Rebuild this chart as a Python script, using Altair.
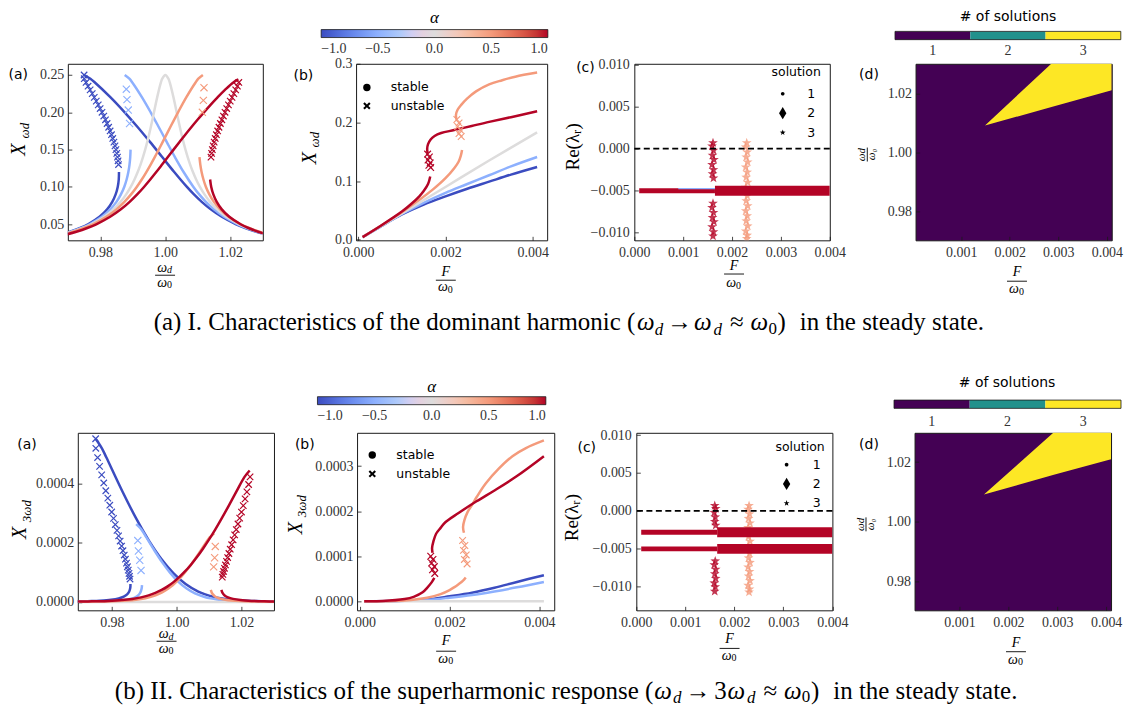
import altair as alt
import pandas as pd

SERIF = "Liberation Serif"
SANS = "DejaVu Sans"
INK = "#1a1a1a"
LAB = "#333333"

# ---------------- colours / categories ----------------
ALPHA_VALUES = [-1.0, -0.5, 0.0, 0.5, 1.0]
CW_DOM = [-1.0, -0.75, -0.5, -0.25, 0.0, 0.25, 0.5, 0.75, 1.0]
CW_RNG = ["#3b4cc0", "#6282ea", "#8db0fe", "#b8d0f9", "#dddcdc", "#f5c4ad", "#f49a7b", "#de604d", "#b40426"]
C_M1, C_M05, C_0, C_P05, C_P1 = "#3b4cc0", "#8db0fe", "#dddcdc", "#f49a7b", "#b40426"
VIRIDIS3 = ["#440154", "#21918c", "#fde725"]
N_SOL = [1, 2, 3]
SOL_LABELS = ["1", "2", "3"]
STAB_LABELS = ["stable", "unstable"]

# ---------------- panel (a): omega_d/omega_0 vs X_wd (I) and X_3wd (II) ----------------
# alpha = -1
a_m1_up_w = [0.975, 0.97693, 0.97832, 0.98315, 0.98749, 0.99152, 0.99534, 0.99904, 1.00274, 1.00665, 1.00881, 1.01121, 1.01399, 1.01737, 1.02178, 1.0246, 1.02805, 1.02966]
a_m1_up_X1 = [0.25, 0.245, 0.24, 0.22, 0.2, 0.18, 0.16, 0.14, 0.12, 0.1, 0.09, 0.08, 0.07, 0.06, 0.05, 0.045, 0.04, 0.038]
a_m1_up_X3 = [0.00055, 0.0005177, 0.0004866, 0.0003748, 0.0002816, 0.0002053, 0.0001442, 0.0000966, 0.0000608, 0.0000352, 0.0000257, 0.000018, 0.0000121, 0.0000076, 0.0000044, 0.0000032, 0.0000023, 0.0000019]
a_m1_lo_w = [0.96918, 0.97067, 0.97378, 0.97622, 0.97975, 0.98209, 0.98367, 0.98471, 0.98535, 0.98567, 0.98574]
a_m1_lo_X1 = [0.038, 0.04, 0.045, 0.05, 0.06, 0.07, 0.08, 0.09, 0.1, 0.11, 0.12]
a_m1_lo_X3 = [0.0000019, 0.0000023, 0.0000032, 0.0000044, 0.0000076, 0.0000121, 0.000018, 0.0000257, 0.0000352, 0.0000469, 0.0000608]
a_m1_un_w = [0.9856, 0.98546, 0.98528, 0.98506, 0.9848, 0.98451, 0.98418, 0.98382, 0.98343, 0.98301, 0.98256, 0.98208, 0.98158, 0.98106, 0.98051, 0.97994, 0.97936, 0.97875, 0.97813, 0.9775, 0.97686, 0.97622, 0.9756, 0.97505, 0.975]
a_m1_un_X1 = [0.13, 0.135, 0.14, 0.145, 0.15, 0.155, 0.16, 0.165, 0.17, 0.175, 0.18, 0.185, 0.19, 0.195, 0.2, 0.205, 0.21, 0.215, 0.22, 0.225, 0.23, 0.235, 0.24, 0.245, 0.25]
a_m1_un_X3 = [0.0000773, 0.0000866, 0.0000966, 0.0001073, 0.0001188, 0.0001311, 0.0001442, 0.0001581, 0.0001729, 0.0001886, 0.0002053, 0.0002229, 0.0002414, 0.000261, 0.0002816, 0.0003032, 0.000326, 0.0003498, 0.0003748, 0.000401, 0.0004283, 0.0004568, 0.0004866, 0.0005177, 0.00055]
# alpha = -0.5
a_m05_up_w = [0.9875, 0.98894, 0.98984, 0.99283, 0.99549, 0.998, 1.00046, 1.00296, 1.00562, 1.00865, 1.01043, 1.01249, 1.01497, 1.01809, 1.02228, 1.02501, 1.02837, 1.02995]
a_m05_up_X1 = [0.25, 0.245, 0.24, 0.22, 0.2, 0.18, 0.16, 0.14, 0.12, 0.1, 0.09, 0.08, 0.07, 0.06, 0.05, 0.045, 0.04, 0.038]
a_m05_up_X3 = [0.0002625, 0.000247, 0.0002322, 0.0001789, 0.0001344, 0.000098, 0.0000688, 0.0000461, 0.000029, 0.0000168, 0.0000122, 0.0000086, 0.0000058, 0.0000036, 0.0000021, 0.0000015, 0.0000011, 0.0000009]
a_m05_lo_w = [0.96947, 0.97099, 0.97419, 0.97672, 0.98047, 0.98307, 0.98495, 0.98633, 0.98735, 0.98809, 0.98862, 0.98898, 0.9892, 0.9893]
a_m05_lo_X1 = [0.038, 0.04, 0.045, 0.05, 0.06, 0.07, 0.08, 0.09, 0.1, 0.11, 0.12, 0.13, 0.14, 0.15]
a_m05_lo_X3 = [0.0000009, 0.0000011, 0.0000015, 0.0000021, 0.0000036, 0.0000058, 0.0000086, 0.0000122, 0.0000168, 0.0000224, 0.000029, 0.0000369, 0.0000461, 0.0000567]
a_m05_un_w = [0.988, 0.9882, 0.9886, 0.989]
a_m05_un_X1 = [0.231, 0.217, 0.203, 0.185]
a_m05_un_X3 = [0.000207, 0.0001717, 0.0001405, 0.0001064]
# alpha = 0
a_0_w = [0.96976, 0.97131, 0.97459, 0.97722, 0.98119, 0.98405, 0.98623, 0.98795, 0.98935, 0.99051, 0.9915, 0.99236, 0.99312, 0.9938, 0.99442, 0.99552, 0.99651, 0.99749, 0.99864, 0.99906, 1.0,
         1.00094, 1.00136, 1.00251, 1.00349, 1.00448, 1.00558, 1.0062, 1.00688, 1.00764, 1.0085, 1.00949, 1.01065, 1.01205, 1.01377, 1.01595, 1.01881, 1.02278, 1.02541, 1.02869, 1.03024]
a_0_X1 = [0.038, 0.04, 0.045, 0.05, 0.06, 0.07, 0.08, 0.09, 0.1, 0.11, 0.12, 0.13, 0.14, 0.15, 0.16, 0.18, 0.2, 0.22, 0.24, 0.245, 0.25,
          0.245, 0.24, 0.22, 0.2, 0.18, 0.16, 0.15, 0.14, 0.13, 0.12, 0.11, 0.1, 0.09, 0.08, 0.07, 0.06, 0.05, 0.045, 0.04, 0.038]
a_0_X3_w = [0.9698, 1.0302]
a_0_X3 = [0.0, 0.0]
# alpha = 0.5
a_p05_up_w = [0.97003, 0.97161, 0.97497, 0.97768, 0.98186, 0.98496, 0.98741, 0.98945, 0.9912, 0.99275, 0.99416, 0.99549, 0.99675, 0.99796, 0.99916, 1.00151, 1.00391, 1.00644, 1.0093, 1.01016, 1.01156]
a_p05_up_X1 = [0.038, 0.04, 0.045, 0.05, 0.06, 0.07, 0.08, 0.09, 0.1, 0.11, 0.12, 0.13, 0.14, 0.15, 0.16, 0.18, 0.2, 0.22, 0.24, 0.245, 0.25]
a_p05_up_X3 = [0.0000008, 0.0000009, 0.0000013, 0.0000019, 0.0000032, 0.0000051, 0.0000076, 0.0000108, 0.0000148, 0.0000197, 0.0000256, 0.0000325, 0.0000406, 0.00005, 0.0000606, 0.0000863, 0.0001184, 0.0001576, 0.0002046, 0.0002176, 0.0002313]
a_p05_lo_w = [1.01051, 1.01077, 1.01116, 1.01173, 1.0125, 1.01355, 1.01495, 1.01686, 1.01948, 1.02324, 1.02579, 1.02899, 1.03051]
a_p05_lo_X1 = [0.14, 0.13, 0.12, 0.11, 0.1, 0.09, 0.08, 0.07, 0.06, 0.05, 0.045, 0.04, 0.038]
a_p05_lo_X3 = [0.0000406, 0.0000325, 0.0000256, 0.0000197, 0.0000148, 0.0000108, 0.0000076, 0.0000051, 0.0000032, 0.0000019, 0.0000013, 0.0000009, 0.0000008]
a_p05_un_w = [1.0119, 1.0117, 1.0114]
a_p05_un_X1 = [0.233, 0.216, 0.2]
a_p05_un_X3 = [0.0001872, 0.0001492, 0.0001184]
# alpha = 1
a_p1_up_w = [0.96932, 0.97262, 0.97598, 0.97874, 0.98303, 0.98632, 0.98902, 0.99134, 0.99343, 0.99536, 0.99721, 0.999, 1.00077, 1.00254, 1.00433, 1.00613, 1.00799, 1.0099, 1.01187, 1.01392, 1.01607, 1.01835, 1.02092, 1.0225]
a_p1_up_X1 = [0.036, 0.04, 0.045, 0.05, 0.06, 0.07, 0.08, 0.09, 0.1, 0.11, 0.12, 0.13, 0.14, 0.15, 0.16, 0.17, 0.18, 0.19, 0.2, 0.21, 0.22, 0.23, 0.24, 0.244]
a_p1_up_X3 = [0.0000014, 0.000002, 0.0000028, 0.0000038, 0.0000066, 0.0000105, 0.0000156, 0.0000222, 0.0000305, 0.0000406, 0.0000527, 0.000067, 0.0000837, 0.0001029, 0.0001249, 0.0001498, 0.0001779, 0.0002092, 0.000244, 0.0002825, 0.0003248, 0.0003711, 0.0004216, 0.0004431]
a_p1_lo_w = [1.01378, 1.01413, 1.01478, 1.01582, 1.01738, 1.01969, 1.02316, 1.02555, 1.02859, 1.03083]
a_p1_lo_X1 = [0.11, 0.1, 0.09, 0.08, 0.07, 0.06, 0.05, 0.045, 0.04, 0.037]
a_p1_lo_X3 = [0.0000406, 0.0000305, 0.0000222, 0.0000156, 0.0000105, 0.0000066, 0.0000038, 0.0000028, 0.000002, 0.0000015]
a_p1_un_w = [1.01405, 1.01424, 1.01447, 1.01473, 1.01503, 1.01536, 1.01571, 1.0161, 1.01651, 1.01694, 1.0174, 1.01787, 1.01837, 1.01889, 1.01942, 1.01997, 1.02053, 1.02109, 1.02165, 1.02218, 1.02262]
a_p1_un_X1 = [0.14, 0.145, 0.15, 0.155, 0.16, 0.165, 0.17, 0.175, 0.18, 0.185, 0.19, 0.195, 0.2, 0.205, 0.21, 0.215, 0.22, 0.225, 0.23, 0.235, 0.24]
a_p1_un_X3 = [0.0000837, 0.000093, 0.0001029, 0.0001136, 0.0001249, 0.000137, 0.0001498, 0.0001634, 0.0001779, 0.0001931, 0.0002092, 0.0002262, 0.000244, 0.0002628, 0.0002825, 0.0003031, 0.0003248, 0.0003474, 0.0003711, 0.0003958, 0.0004216]

# ---------------- panel (b): F/omega_0 vs amplitude ----------------
bI_F9 = [0.0001, 0.0005, 0.001, 0.0015, 0.002, 0.0025, 0.003, 0.0035, 0.0041]
bI_m1_X = [0.0045, 0.022, 0.043, 0.06, 0.074, 0.087, 0.099, 0.111, 0.124]
bI_m05_X = [0.0045, 0.022, 0.044, 0.063, 0.08, 0.095, 0.11, 0.125, 0.141]
bI_0_F = [0.0001, 0.001, 0.002, 0.003, 0.0041]
bI_0_X = [0.0045, 0.045, 0.09, 0.135, 0.183]
bI_p05_lo_F = [0.0001, 0.0005, 0.001, 0.0014, 0.0017, 0.002, 0.0022, 0.0023, 0.00235, 0.00238]
bI_p05_lo_X = [0.0045, 0.023, 0.047, 0.068, 0.085, 0.105, 0.122, 0.133, 0.143, 0.153]
bI_p05_up_F = [0.00225, 0.00224, 0.00228, 0.00236, 0.0025, 0.0027, 0.003, 0.0033, 0.0036, 0.0041]
bI_p05_up_X = [0.205, 0.213, 0.222, 0.23, 0.241, 0.253, 0.265, 0.272, 0.278, 0.285]
bI_p05_un_F = [0.00226, 0.00231, 0.00228, 0.00234, 0.00231, 0.00236]
bI_p05_un_X = [0.205, 0.199, 0.193, 0.187, 0.181, 0.176]
bI_p1_lo_F = [0.0001, 0.0005, 0.001, 0.0012, 0.0014, 0.0015, 0.0016, 0.00165]
bI_p1_lo_X = [0.0045, 0.023, 0.048, 0.06, 0.074, 0.083, 0.095, 0.108]
bI_p1_up_F = [0.00159, 0.00158, 0.0016, 0.00166, 0.00175, 0.0019, 0.0022, 0.0026, 0.003, 0.0035, 0.0041]
bI_p1_up_X = [0.148, 0.155, 0.163, 0.171, 0.177, 0.182, 0.187, 0.194, 0.201, 0.209, 0.219]
bI_p1_un_F = [0.00159, 0.00163, 0.0016, 0.00165, 0.00162, 0.00166]
bI_p1_un_X = [0.146, 0.141, 0.136, 0.131, 0.127, 0.123]

bII_F8 = [0.0001, 0.001, 0.0015, 0.002, 0.0025, 0.003, 0.0035, 0.0041]
bII_m1_X = [0.0, 0.0000015, 0.000004, 0.000011, 0.000019, 0.00003, 0.000043, 0.000058]
bII_m05_X = [0.0, 0.000001, 0.000003, 0.000008, 0.000014, 0.000022, 0.000031, 0.000043]
bII_0_F = [0.0001, 0.0041]
bII_0_X = [0.0, 0.0]
bII_p05_lo_F = [0.0001, 0.001, 0.0015, 0.0018, 0.002, 0.0021, 0.0022, 0.0023, 0.00236]
bII_p05_lo_X = [0.0, 0.000002, 0.000008, 0.000016, 0.000025, 0.000031, 0.000038, 0.000046, 0.000053]
bII_p05_up_F = [0.00232, 0.0023, 0.00233, 0.0024, 0.0025, 0.0026, 0.0028, 0.0031, 0.0034, 0.0037, 0.0041]
bII_p05_up_X = [0.000152, 0.000165, 0.00018, 0.000198, 0.000214, 0.000231, 0.000261, 0.000295, 0.000322, 0.00034, 0.000357]
bII_p05_un_F = [0.00229, 0.00234, 0.00231, 0.00237, 0.00233, 0.00239]
bII_p05_un_X = [0.000135, 0.000124, 0.000113, 0.000103, 0.000093, 0.000083]
bII_p1_lo_F = [0.0001, 0.0005, 0.001, 0.0012, 0.0014, 0.0015, 0.0016, 0.00166]
bII_p1_lo_X = [0.0, 0.0000005, 0.000005, 0.00001, 0.00002, 0.00003, 0.000042, 0.000052]
bII_p1_up_F = [0.00162, 0.00161, 0.00164, 0.0017, 0.0018, 0.0019, 0.0022, 0.0026, 0.003, 0.0035, 0.0041]
bII_p1_up_X = [0.000108, 0.000118, 0.000133, 0.00015, 0.000163, 0.000175, 0.000196, 0.000222, 0.000246, 0.000278, 0.000322]
bII_p1_un_F = [0.00158, 0.00163, 0.0016, 0.00166, 0.00162, 0.00167]
bII_p1_un_X = [0.0001, 0.000093, 0.000085, 0.000077, 0.00007, 0.000062]

# ---------------- panel (c): Re(lambda_r) vs F/omega_0 ----------------
c_band_F = [0.0001, 0.00165, 0.004]
cI_band_y = [-0.005]
cII_band_y = [-0.0028, -0.005]
cI_blue_F = [0.0009, 0.00165]
cI_blue_y = [-0.00475, -0.00475]
cI_red_F = [0.00161, 0.00159, 0.00162, 0.0016, 0.00163, 0.00159, 0.00162, 0.0016, 0.00162, 0.00161, 0.00159, 0.00162, 0.0016, 0.00163, 0.00159, 0.00162, 0.00161]
cI_red_y = [0.0007, 0.0003, -0.0002, -0.0008, -0.0013, -0.0019, -0.0025, -0.003, -0.0035, -0.0065, -0.007, -0.0076, -0.0082, -0.0087, -0.0093, -0.0099, -0.0104]
cII_red_F = [0.0016, 0.00162, 0.00159, 0.00161, 0.0016, 0.00162, 0.00161, 0.00159, 0.00162, 0.0016, 0.00162, 0.00159, 0.00161, 0.0016]
cII_red_y = [0.0007, 0.0003, -0.0002, -0.0008, -0.0014, -0.0019, -0.0066, -0.0071, -0.0077, -0.0083, -0.0089, -0.0095, -0.01, -0.0106]
c_sal_F = [0.0023, 0.00228, 0.00231, 0.00229, 0.00232, 0.00228, 0.00231, 0.00229, 0.00232, 0.00228, 0.00231, 0.00229, 0.00232, 0.00228, 0.00231, 0.00229, 0.00232, 0.00228, 0.00231, 0.0023]
c_sal_y = [0.0007, 0.0002, -0.0004, -0.001, -0.0016, -0.0022, -0.0028, -0.0034, -0.004, -0.0046, -0.0056, -0.0062, -0.0068, -0.0074, -0.008, -0.0086, -0.0092, -0.0098, -0.0103, -0.0107]
c_zero = [0.0]

# ---------------- panel (d): number of solutions ----------------
dI_F = [0.00149, 0.00286, 0.0041]
dI_lo = [1.0092, 1.01545, 1.0211]
dI_hi = [1.0092, 1.0302, 1.0302]
dII_F = [0.0015, 0.00293, 0.0041]
dII_lo = [1.0091, 1.0157, 1.0209]
dII_hi = [1.0091, 1.03, 1.03]

# ---------------- marker shapes ----------------
XPATH = "M-0.8,-0.8L0.8,0.8M-0.8,0.8L0.8,-0.8"
XFILL = "M-1,-0.6L-0.6,-1L0,-0.4L0.6,-1L1,-0.6L0.4,0L1,0.6L0.6,1L0,0.4L-0.6,1L-1,0.6L-0.4,0Z"
STAR = "M0,-1L0.2351,-0.3236L0.9511,-0.309L0.3804,0.1236L0.5878,0.809L0,0.4L-0.5878,0.809L-0.3804,0.1236L-0.9511,-0.309L-0.2351,-0.3236Z"
SOL_DOT = "M-0.3,0A0.3,0.3 0 1,0 0.3,0A0.3,0.3 0 1,0 -0.3,0Z"
SOL_DIA = "M0,-1L0.6,0L0,1L-0.6,0Z"
SOL_STAR = "M0,-0.5L0.1176,-0.1618L0.4755,-0.1545L0.1902,0.0618L0.2939,0.4045L0,0.2L-0.2939,0.4045L-0.1902,0.0618L-0.4755,-0.1545L-0.1176,-0.1618Z"

ONE = pd.DataFrame({"k": [0]})


def sc(dom, rng=None):
    if rng is None:
        return alt.Scale(domain=dom, nice=False, zero=False)
    return alt.Scale(domain=dom, range=rng, nice=False, zero=False)


def xy(xsc, ysc, xf="x", yf="y"):
    return dict(x=alt.X(f"{xf}:Q", scale=xsc, axis=None), y=alt.Y(f"{yf}:Q", scale=ysc, axis=None))


def line(xs, ys, color, xsc, ysc, width=2.5, alpha=None, legend=None):
    df = pd.DataFrame({"x": xs, "y": ys, "i": list(range(len(xs)))})
    e = xy(xsc, ysc)
    e["order"] = alt.Order("i:Q")
    if alpha is not None:
        df["a"] = [alpha] * len(xs)
        e["color"] = alt.Color("a:Q", scale=alt.Scale(domain=CW_DOM, range=CW_RNG), legend=legend)
    return alt.Chart(df).mark_line(color=color, strokeWidth=width, interpolate="catmull-rom", clip=True).encode(**e)


def xmarks(xs, ys, color, xsc, ysc, size=65, sw=1.2):
    df = pd.DataFrame({"x": xs, "y": ys})
    return alt.Chart(df).mark_point(shape=XPATH, filled=False, size=size, strokeWidth=sw, color=color,
                                    opacity=1, clip=True).encode(**xy(xsc, ysc))


def stars(xs, ys, color, xsc, ysc):
    df = pd.DataFrame({"x": xs, "y": ys})
    return alt.Chart(df).mark_point(shape=STAR, filled=True, size=105, color=color, opacity=0.8,
                                    clip=True).encode(**xy(xsc, ysc))


def t(s, x, y, size=14, font=SERIF, style="normal", angle=0, align="center", baseline="middle", color="black"):
    return alt.Chart(ONE).mark_text(text=s, fontSize=size, font=font, fontStyle=style, angle=angle, align=align,
                                    baseline=baseline, color=color).encode(x=alt.value(x), y=alt.value(y))


def hbar(x1, x2, y):
    return alt.Chart(ONE).mark_rule(color="black", strokeWidth=0.9).encode(x=alt.value(x1), x2=alt.value(x2), y=alt.value(y))


def vbar(x, y1, y2):
    return alt.Chart(ONE).mark_rule(color="black", strokeWidth=0.9).encode(x=alt.value(x), y=alt.value(y1), y2=alt.value(y2))


def axes(xsc, ysc, xt, yt, xf, yf, W, H, xpad=5, ypad=4):
    d = pd.DataFrame({"x": [xt[0]], "y": [yt[0]]})
    lk = dict(labelFont=SERIF, labelFontSize=14, labelColor=LAB, ticks=False, tickSize=0, domain=False, grid=False,
              title=None, labelOverlap=False, labelFlush=False)
    lab = alt.Chart(d).mark_point(opacity=0).encode(
        x=alt.X("x:Q", scale=xsc, axis=alt.Axis(orient="bottom", values=xt, format=xf, labelPadding=xpad, **lk)),
        y=alt.Y("y:Q", scale=ysc, axis=alt.Axis(orient="left", values=yt, format=yf, labelPadding=ypad, **lk)))
    tk = dict(labels=False, ticks=True, tickSize=4, tickColor=INK, tickWidth=0.8, domain=False, grid=False, title=None)
    tck = alt.Chart(d).mark_point(opacity=0).encode(
        x=alt.X("x:Q", scale=xsc, axis=alt.Axis(orient="top", offset=-H, values=xt, **tk)),
        y=alt.Y("y:Q", scale=ysc, axis=alt.Axis(orient="right", offset=-W, values=yt, **tk)))
    return [lab, tck]


def panel(layers, W, H, fill="white", indep_x=False):
    ch = alt.layer(*layers)
    if indep_x:
        ch = ch.resolve_scale(x="independent")
    return (ch.resolve_axis(x="independent", y="independent")
            .properties(width=W, height=H, view=alt.ViewBackground(stroke=INK, strokeWidth=1, fill=fill)))


def ytitle_X(cx, cy, sub, scx, scy):
    return [t("X", cx, cy, 20, style="italic", angle=270), t(sub, scx, scy, 13, style="italic", angle=270)]


def frac_w(cx, yn, yb, yd, half=10):
    return [t("ω", cx - 3, yn, 14, style="italic"), t("d", cx + 4.5, yn + 2.5, 10, style="italic"),
            hbar(cx - half, cx + half, yb),
            t("ω", cx - 3, yd, 14, style="italic"), t("0", cx + 4.5, yd + 2.5, 10)]


def frac_F(cx, yn, yb, yd, half=10):
    return [t("F", cx, yn, 14, style="italic"), hbar(cx - half, cx + half, yb),
            t("ω", cx - 3, yd, 14, style="italic"), t("0", cx + 4.5, yd + 2.5, 10)]


def yfrac(cxn, cxb, cxd, cy):
    return [t("ωd", cxn, cy, 11, style="italic", angle=270), vbar(cxb, cy - 7, cy + 7),
            t("ω₀", cxd, cy, 11, style="italic", angle=270)]


def alpha_legend(lx, ly, length):
    return alt.Legend(orient="none", legendX=lx, legendY=ly, direction="horizontal", title=None,
                      gradientLength=length, gradientThickness=8,
                      gradientStrokeColor=INK, gradientStrokeWidth=0.8, values=ALPHA_VALUES, format=".1f",
                      labelFont=SERIF, labelFontSize=14, labelColor=LAB, labelAlign="center", labelOverlap=False,
                      labelOffset=4, padding=0)


def stab_legend(lx, ly, rpad, loff):
    d = pd.DataFrame({"s": STAB_LABELS})
    return alt.Chart(d).transform_filter("false").mark_point(filled=True, color="black", opacity=1, size=55).encode(
        shape=alt.Shape("s:N", scale=alt.Scale(domain=STAB_LABELS, range=["circle", XFILL]),
                        legend=alt.Legend(orient="none", legendX=lx, legendY=ly, title=None, labelFont=SANS,
                                          labelFontSize=12.5, labelColor="black", symbolSize=55, symbolStrokeWidth=0,
                                          symbolFillColor="black", rowPadding=rpad, labelOffset=loff, padding=0)))


def sol_legend(lx, ly, tpad, rpad, loff):
    d = pd.DataFrame({"s": SOL_LABELS})
    return alt.Chart(d).transform_filter("false").mark_point(filled=True, color="black", opacity=1, size=150).encode(
        shape=alt.Shape("s:N", scale=alt.Scale(domain=SOL_LABELS, range=[SOL_DOT, SOL_DIA, SOL_STAR]),
                        legend=alt.Legend(orient="none", legendX=lx, legendY=ly, title="solution", titleFont=SANS,
                                          titleFontSize=12.5, titleFontWeight="normal", titleColor="black",
                                          titleAnchor="middle", titlePadding=tpad, labelFont=SANS, labelFontSize=12.5,
                                          labelColor="black", symbolSize=150, symbolStrokeWidth=0,
                                          symbolFillColor="black", rowPadding=rpad, labelOffset=loff, padding=0)))


def bands(ys, xsc, ysc):
    n = len(ys)
    thin = pd.DataFrame({"x0": [c_band_F[0]] * n, "x1": [c_band_F[1]] * n, "y": ys})
    thick = pd.DataFrame({"x0": [c_band_F[1]] * n, "x1": [c_band_F[2]] * n, "y": ys})
    out = []
    for df, w in ((thin, 5), (thick, 10)):
        out.append(alt.Chart(df).mark_rule(color=C_P1, strokeWidth=w, clip=True).encode(
            x=alt.X("x0:Q", scale=xsc, axis=None), x2="x1:Q", y=alt.Y("y:Q", scale=ysc, axis=None)))
    return out


def zero_rule(ysc):
    return alt.Chart(pd.DataFrame({"y": c_zero})).mark_rule(color="black", strokeWidth=1.8, strokeDash=[6, 3.5]).encode(
        y=alt.Y("y:Q", scale=ysc, axis=None))


def count_bar(rng, y0, y1, ylab, tx, ty):
    d = pd.DataFrame({"n": N_SOL, "lo": [n - 0.5 for n in N_SOL], "hi": [n + 0.5 for n in N_SOL]})
    fr = pd.DataFrame({"lo": [min(N_SOL) - 0.5], "hi": [max(N_SOL) + 0.5]})
    xsc = sc([min(N_SOL) - 0.5, max(N_SOL) + 0.5], rng)
    bar = alt.Chart(d).mark_rect().encode(
        x=alt.X("lo:Q", scale=xsc, axis=None), x2="hi:Q", y=alt.value(y0), y2=alt.value(y1),
        color=alt.Color("n:O", scale=alt.Scale(domain=N_SOL, range=VIRIDIS3), legend=None))
    frame = alt.Chart(fr).mark_rect(fillOpacity=0, stroke=INK, strokeWidth=0.8).encode(
        x=alt.X("lo:Q", scale=xsc, axis=None), x2="hi:Q", y=alt.value(y0), y2=alt.value(y1))
    labs = alt.Chart(d).mark_text(font=SERIF, fontSize=14, color=LAB, baseline="middle").encode(
        x=alt.X("n:Q", scale=xsc, axis=None), y=alt.value(ylab), text="n:N")
    title = t("# of solutions", tx, ty, 14, SANS, baseline="top")
    return [bar, frame, labs, title]


CAP = 25

# ================= ROW I =================
# I(a)
W, H = 195.5, 177
xs, ys = sc([0.97, 1.03]), sc([0.0285, 0.265])
L = axes(xs, ys, [0.98, 1.0, 1.02], [0.05, 0.1, 0.15, 0.2, 0.25], ".2f", ".2f", W, H)
L += [line(a_m1_up_w, a_m1_up_X1, C_M1, xs, ys), line(a_m1_lo_w, a_m1_lo_X1, C_M1, xs, ys),
      line(a_m05_up_w, a_m05_up_X1, C_M05, xs, ys), line(a_m05_lo_w, a_m05_lo_X1, C_M05, xs, ys),
      line(a_0_w, a_0_X1, C_0, xs, ys),
      line(a_p05_up_w, a_p05_up_X1, C_P05, xs, ys), line(a_p05_lo_w, a_p05_lo_X1, C_P05, xs, ys),
      line(a_p1_up_w, a_p1_up_X1, C_P1, xs, ys), line(a_p1_lo_w, a_p1_lo_X1, C_P1, xs, ys)]
L += [xmarks(a_m1_un_w, a_m1_un_X1, C_M1, xs, ys), xmarks(a_m05_un_w, a_m05_un_X1, C_M05, xs, ys, 80, 1.1),
      xmarks(a_p05_un_w, a_p05_un_X1, C_P05, xs, ys, 80, 1.1), xmarks(a_p1_un_w, a_p1_un_X1, C_P1, xs, ys)]
L += [t("(a)", -59.5, 11, 14, SANS, align="left")] + ytitle_X(-48.5, 86, "ωd", -43, 67)
L += frac_w(97.5, H + 27.5, H + 35, H + 42.5)
cy = 266.8
L += [t("(a) I. Characteristics of the dominant harmonic (", 569, cy, CAP, align="right", baseline="alphabetic"),
      t("ω", 579.5, cy, CAP, style="italic", baseline="alphabetic"),
      t("d", 592.8, cy + 5.2, 17, style="italic", baseline="alphabetic"),
      t("→", 613.3, cy, CAP, baseline="alphabetic"),
      t("ω", 636.7, cy, CAP, style="italic", baseline="alphabetic"),
      t("d", 651.7, cy + 5.2, 17, style="italic", baseline="alphabetic"),
      t("≈", 670.8, cy, CAP, baseline="alphabetic"),
      t("ω", 693.3, cy, CAP, style="italic", baseline="alphabetic"),
      t("0", 706.7, cy + 3.8, 17, baseline="alphabetic"),
      t(")", 715.8, cy, CAP, baseline="alphabetic"),
      t("in the steady state.", 734, cy, CAP, align="left", baseline="alphabetic")]
Ia = panel(L, W, H)

# I(b)
W, H = 191.6, 177
xs, ys = sc([-0.00005, 0.00433]), sc([-0.001, 0.3])
L = axes(xs, ys, [0.0, 0.002, 0.004], [0.0, 0.1, 0.2, 0.3], ".3f", ".1f", W, H)
L += [line(bI_F9, bI_m1_X, C_M1, xs, ys), line(bI_F9, bI_m05_X, C_M05, xs, ys),
      line(bI_0_F, bI_0_X, C_0, xs, ys, alpha=0.0, legend=alpha_legend(-35, -34.3, 227.3)),
      line(bI_p05_lo_F, bI_p05_lo_X, C_P05, xs, ys), line(bI_p05_up_F, bI_p05_up_X, C_P05, xs, ys),
      line(bI_p1_lo_F, bI_p1_lo_X, C_P1, xs, ys), line(bI_p1_up_F, bI_p1_up_X, C_P1, xs, ys)]
L += [xmarks(bI_p05_un_F, bI_p05_un_X, C_P05, xs, ys, 70, 1.1), xmarks(bI_p1_un_F, bI_p1_un_X, C_P1, xs, ys, 70, 1.2)]
L += [stab_legend(4.6, 17.45, 5.5, 17.6)]
L += [t("α", 78.6, -45.5, 17, style="italic")]
L += [t("(b)", -62.7, 12.7, 14, SANS, align="left")] + ytitle_X(-46.2, 94.7, "ωd", -41, 76)
L += frac_F(90, H + 31.5, H + 40, H + 47)
Ib = panel(L, W, H)

# I(c)
W, H = 196, 177
xs, ys = sc([0.0, 0.004]), sc([-0.0109, 0.0101])
L = axes(xs, ys, [0.0, 0.001, 0.002, 0.003, 0.004], [-0.01, -0.005, 0.0, 0.005, 0.01], ".3f", ".3f", W, H, 5, 5)
L += [stars(cI_red_F, cI_red_y, C_P1, xs, ys), stars(c_sal_F, c_sal_y, C_P05, xs, ys)]
L += bands(cI_band_y, xs, ys)
L += [line(cI_blue_F, cI_blue_y, C_M05, xs, ys, width=1.2)]
L += [zero_rule(ys), sol_legend(137.3, 2.5, 8.5, 6.5, 18.2)]
L += [t("(c)", -58.3, 4, 14, SANS, align="left"), t("Re(λᵣ)", -61.8, 83.3, 19, angle=270)]
L += frac_F(100, H + 25.5, H + 33.8, H + 43)
Ic = panel(L, W, H)

# I(d)
W, H = 196.7, 177
xs, ys = sc([0.00006, 0.0041]), sc([0.9703, 1.0301])
L = axes(xs, ys, [0.001, 0.002, 0.003, 0.004], [0.98, 1.0, 1.02], ".3f", ".2f", W, H)
L += [alt.Chart(pd.DataFrame({"x": dI_F, "lo": dI_lo, "hi": dI_hi})).mark_area(color=VIRIDIS3[2], clip=True).encode(
    x=alt.X("x:Q", scale=xs, axis=None), y=alt.Y("lo:Q", scale=ys, axis=None), y2="hi:Q")]
L += count_bar([-20.6, 205.8], -32.5, -24.2, -12.5, 92.7, -53.5)
L += [t("(d)", -56.6, 11, 14, SANS, align="left")] + yfrac(-53.3, -48.4, -43.6, 91)
L += frac_F(101.7, H + 31.5, H + 41, H + 49)
Id = panel(L, W, H, fill=VIRIDIS3[0], indep_x=True)

# ================= ROW II =================
# II(a)
W, H = 196.7, 178
xs, ys = sc([0.9695, 1.03]), sc([-0.000028, 0.00057])
L = axes(xs, ys, [0.98, 1.0, 1.02], [0.0, 0.0002, 0.0004], ".2f", ".4f", W, H)
L += [line(a_m1_up_w, a_m1_up_X3, C_M1, xs, ys), line(a_m1_lo_w, a_m1_lo_X3, C_M1, xs, ys),
      line(a_m05_up_w, a_m05_up_X3, C_M05, xs, ys), line(a_m05_lo_w, a_m05_lo_X3, C_M05, xs, ys),
      line(a_0_X3_w, a_0_X3, C_0, xs, ys),
      line(a_p05_up_w, a_p05_up_X3, C_P05, xs, ys), line(a_p05_lo_w, a_p05_lo_X3, C_P05, xs, ys),
      line(a_p1_up_w, a_p1_up_X3, C_P1, xs, ys), line(a_p1_lo_w, a_p1_lo_X3, C_P1, xs, ys)]
L += [xmarks(a_m1_un_w, a_m1_un_X3, C_M1, xs, ys), xmarks(a_m05_un_w, a_m05_un_X3, C_M05, xs, ys, 80, 1.1),
      xmarks(a_p05_un_w, a_p05_un_X3, C_P05, xs, ys, 80, 1.1), xmarks(a_p1_un_w, a_p1_un_X3, C_P1, xs, ys)]
L += [t("(a)", -60.6, 12.3, 14, SANS, align="left")] + ytitle_X(-57.5, 100.3, "3ωd", -51, 78.5)
L += frac_w(89, H + 24, H + 31, H + 38.5)
cy = 266.5
L += [t("(b) II. Characteristics of the superharmonic response (", 577, cy, CAP, align="right", baseline="alphabetic"),
      t("ω", 586.7, cy, CAP, style="italic", baseline="alphabetic"),
      t("d", 601, cy + 4.5, 17, style="italic", baseline="alphabetic"),
      t("→", 621.7, cy, CAP, baseline="alphabetic"),
      t("3", 644.4, cy, CAP, baseline="alphabetic"),
      t("ω", 660.2, cy, CAP, style="italic", baseline="alphabetic"),
      t("d", 675.2, cy + 4.5, 17, style="italic", baseline="alphabetic"),
      t("≈", 694.4, cy, CAP, baseline="alphabetic"),
      t("ω", 716.9, cy, CAP, style="italic", baseline="alphabetic"),
      t("0", 730.2, cy + 3, 17, baseline="alphabetic"),
      t(")", 739.4, cy, CAP, baseline="alphabetic"),
      t("in the steady state.", 757.5, cy, CAP, align="left", baseline="alphabetic")]
IIa = panel(L, W, H)

# II(b)
W, H = 197.7, 178
xs, ys = sc([-0.00006, 0.00433]), sc([-0.00002, 0.000374])
L = axes(xs, ys, [0.0, 0.002, 0.004], [0.0, 0.0001, 0.0002, 0.0003], ".3f", ".4f", W, H)
L += [line(bII_F8, bII_m1_X, C_M1, xs, ys), line(bII_F8, bII_m05_X, C_M05, xs, ys),
      line(bII_0_F, bII_0_X, C_0, xs, ys, alpha=0.0, legend=alpha_legend(-39.7, -36.2, 229)),
      line(bII_p05_lo_F, bII_p05_lo_X, C_P05, xs, ys), line(bII_p05_up_F, bII_p05_up_X, C_P05, xs, ys),
      line(bII_p1_lo_F, bII_p1_lo_X, C_P1, xs, ys), line(bII_p1_up_F, bII_p1_up_X, C_P1, xs, ys)]
L += [xmarks(bII_p05_un_F, bII_p05_un_X, C_P05, xs, ys, 70, 1.1), xmarks(bII_p1_un_F, bII_p1_un_X, C_P1, xs, ys, 70, 1.2)]
L += [stab_legend(9, 16.05, 5.9, 17.9)]
L += [t("α", 74.8, -46, 17, style="italic")]
L += [t("(b)", -62.3, 12.3, 14, SANS, align="left")] + ytitle_X(-61.5, 95.7, "3ωd", -55.5, 73.5)
L += frac_F(89.3, H + 30.5, H + 41, H + 48.5)
IIb = panel(L, W, H)

# II(c)
W, H = 196.6, 178
xs, ys = sc([0.0, 0.004]), sc([-0.0131, 0.0103])
L = axes(xs, ys, [0.0, 0.001, 0.002, 0.003, 0.004], [-0.01, -0.005, 0.0, 0.005, 0.01], ".3f", ".3f", W, H, 5, 5)
L += [stars(cII_red_F, cII_red_y, C_P1, xs, ys), stars(c_sal_F, c_sal_y, C_P05, xs, ys)]
L += bands(cII_band_y, xs, ys)
L += [zero_rule(ys), sol_legend(139.2, 8, 4.95, 6.3, 19.6)]
L += [t("(c)", -59, 15, 14, SANS, align="left"), t("Re(λᵣ)", -64.2, 85, 19, angle=270)]
L += frac_F(93.5, H + 29, H + 38.2, H + 45.5)
IIc = panel(L, W, H)

# II(d)
W, H = 197, 178
xs, ys = sc([0.00008, 0.0041]), sc([0.9703, 1.0298])
L = axes(xs, ys, [0.001, 0.002, 0.003, 0.004], [0.98, 1.0, 1.02], ".3f", ".2f", W, H)
L += [alt.Chart(pd.DataFrame({"x": dII_F, "lo": dII_lo, "hi": dII_hi})).mark_area(color=VIRIDIS3[2], clip=True).encode(
    x=alt.X("x:Q", scale=xs, axis=None), y=alt.Y("lo:Q", scale=ys, axis=None), y2="hi:Q")]
L += count_bar([-20.6, 207.0], -32.8, -24.5, -11.2, 92.7, -57.0)
L += [t("(d)", -55.6, 12.6, 14, SANS, align="left")] + yfrac(-53.6, -48.7, -43.9, 91.8)
L += frac_F(101.7, H + 32.5, H + 41.5, H + 49.5)
IId = panel(L, W, H, fill=VIRIDIS3[0], indep_x=True)


def sp(w):
    return alt.Chart(ONE).mark_text(text="").encode(x=alt.value(0), y=alt.value(0)).properties(
        width=w, height=10, view=alt.ViewBackground(stroke="transparent", fill="transparent"))


def indep(ch):
    return (ch.resolve_scale(color="independent", shape="independent")
            .resolve_legend(color="independent", shape="independent"))


row1 = indep(alt.hconcat(Ia, sp(92.3), Ib, sp(86.7), Ic, sp(85.5), Id, spacing=0, bounds="flush"))
row2 = indep(alt.hconcat(sp(9.8), IIa, sp(82.7), IIb, sp(81.7), IIc, sp(81.5), IId, spacing=0, bounds="flush"))
chart = indep(alt.vconcat(row1, row2, spacing=36))
chart = (chart.properties(padding=0)
         .configure(background="white")
         .configure_view(stroke="transparent"))
chart.save("out.html", embed_options={"renderer": "svg", "actions": False})
